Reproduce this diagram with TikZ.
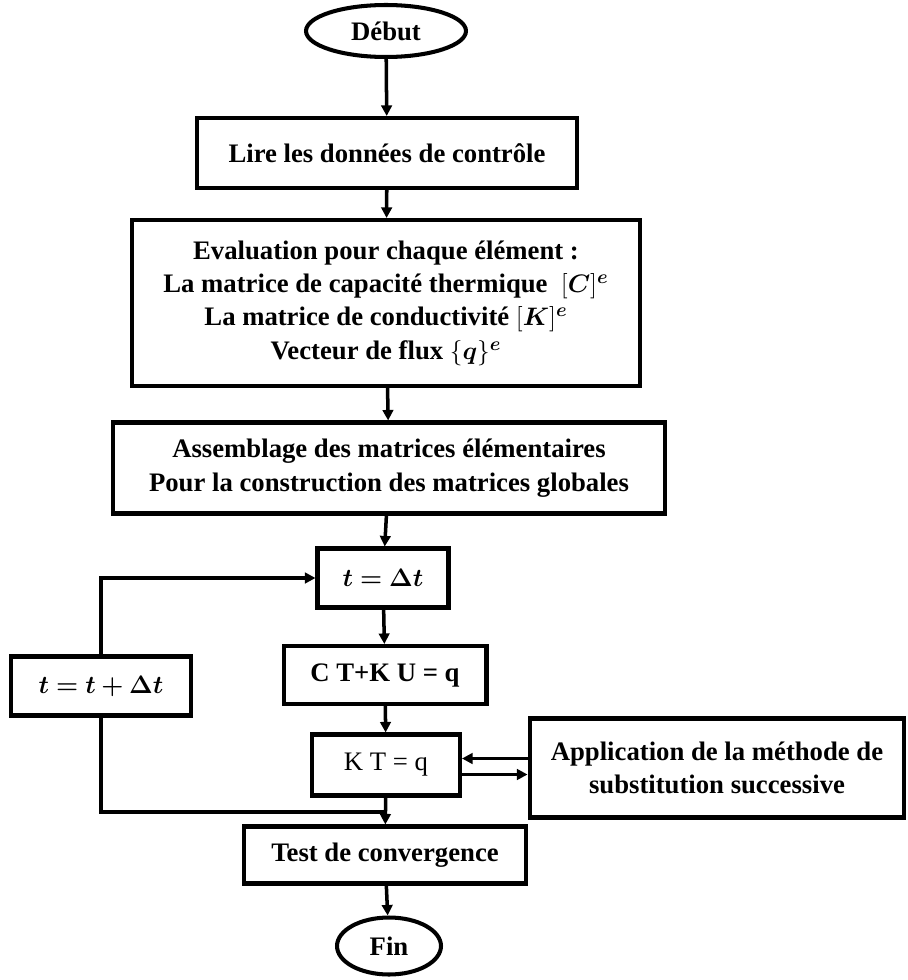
\documentclass[tikz,border=0pt]{standalone}
\usepackage{amsmath,bm}
\usepackage{fontspec}
\setmainfont{Liberation Serif}
\usetikzlibrary{shapes.geometric,arrows.meta,positioning}

\def\boxline{2.3pt}

\begin{document}
\begin{tikzpicture}[x=0.02cm,y=-0.02cm,->,>={Triangle[length=6pt,width=6pt]},line width=2pt,
    font=\fontsize{15.2}{19}\selectfont\bfseries]
    \tikzstyle{block}=[rectangle,draw=black,line width=\boxline,align=center,inner sep=2pt]
    \tikzstyle{term}=[ellipse,draw=black,line width=\boxline,inner sep=0pt]

    \useasboundingbox (0,0) rectangle (907,980);

    % main column
    \node[term, minimum width=3.2cm, minimum height=1.04cm] (debut) at (386,31) {Début};
    \node[block, minimum width=7.62cm, minimum height=1.4cm] (lire) at (387,153) {Lire les données de contrôle};
    \node[block, minimum width=10.16cm, minimum height=3.32cm] (eval) at (386,303)
        {Evaluation pour chaque élément :\\
         La matrice de capacité thermique~ $[\bm{C}]^{\bm{e}}$\\
         La matrice de conductivité $[\bm{K}]^{\bm{e}}$\\
         Vecteur de flux $\{\bm{q}\}^{\bm{e}}$};
    \node[block, minimum width=11.04cm, minimum height=1.82cm] (assem) at (389,468)
        {Assemblage des matrices élémentaires\\ Pour la construction des matrices globales};
    \node[block, minimum width=2.62cm, minimum height=1.18cm] (tdt) at (383,578) {$\bm{t=\Delta t}$};
    \node[block, minimum width=4.06cm, minimum height=1.16cm] (ctku) at (385,675) {C T+K U = q};
    \node[block, minimum width=2.96cm, minimum height=1.22cm, font=\fontsize{15.2}{19}\selectfont] (ktq) at (386,765) {K T = q};
    \node[block, minimum width=5.64cm, minimum height=1.14cm] (test) at (385,855) {Test de convergence};
    \node[term, minimum width=2.08cm, minimum height=1.14cm] (fin) at (389,946) {Fin};

    % side boxes
    \node[block, minimum width=3.6cm, minimum height=1.18cm] (ttdt) at (101,686) {$\bm{t=t+\Delta t}$};
    \node[block, minimum width=7.5cm, minimum height=1.98cm] (appli) at (717,768)
        {Application de la méthode de\\ substitution successive};

    \coordinate (join) at (386,812);

    \draw (debut) -- (lire);
    \draw (lire) -- (eval);
    \draw (eval) -- (assem);
    \draw (assem) -- (tdt);
    \draw (tdt) -- (ctku);
    \draw (ctku) -- (ktq);
    \draw (ktq) -- (test);
    \draw (test) -- (fin);

    % loop on the time step
    \draw (ttdt.north) |- (tdt.west);
    \draw[-] (ttdt.south) |- (join);

    \draw ([yshift=0.13cm]ktq.east -| appli.west) -- ([yshift=0.13cm]ktq.east);
    \draw ([yshift=-0.19cm]ktq.east) -- ([yshift=-0.19cm]ktq.east -| appli.west);
\end{tikzpicture}
\end{document}
